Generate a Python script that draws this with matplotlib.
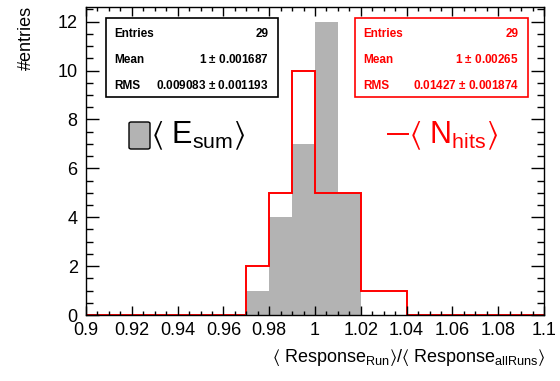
import matplotlib
matplotlib.use("Agg")
import matplotlib.pyplot as plt
import matplotlib.patches as patches
import numpy as np

plt.rcParams['font.family'] = ['Liberation Sans', 'DejaVu Sans']
plt.rcParams['mathtext.fontset'] = 'custom'
plt.rcParams['mathtext.rm'] = 'Liberation Sans'
plt.rcParams['mathtext.it'] = 'Liberation Sans'
plt.rcParams['mathtext.bf'] = 'Liberation Sans:bold'
plt.rcParams['mathtext.default'] = 'regular'

# histogram contents, 20 bins from 0.9 to 1.1
x_lo, x_hi, n_bins = 0.9, 1.1, 20
esum_counts = [0, 0, 0, 0, 0, 0, 0, 1, 4, 7, 12, 5, 0, 0, 0, 0, 0, 0, 0, 0]
nhits_counts = [0, 0, 0, 0, 0, 0, 0, 2, 5, 10, 5, 5, 1, 1, 0, 0, 0, 0, 0, 0]

esum_stats = [("Entries", "29"), ("Mean", "1 $\\pm$ 0.001687"),
              ("RMS", "0.009083 $\\pm$ 0.001193")]
nhits_stats = [("Entries", "29"), ("Mean", "1 $\\pm$ 0.00265"),
               ("RMS", "0.01427 $\\pm$ 0.001874")]

W, H = 560, 381
fig = plt.figure(figsize=(W / 100, H / 100), dpi=100)

def fx(px):
    return px / W

def fy(py):
    return 1 - py / H

ax = fig.add_axes([fx(86), fy(315), fx(544) - fx(86), fy(7) - fy(315)])

edges = np.linspace(x_lo, x_hi, n_bins + 1)
ax.stairs(esum_counts, edges, fill=True, color='#b3b3b3', linewidth=0)
ax.stairs(nhits_counts, edges, baseline=0, color='red', linewidth=1.4)

ax.set_xlim(x_lo, x_hi)
ax.set_ylim(0, 12.6)
ax.set_xticks(np.arange(0.9, 1.1001, 0.02))
ax.set_xticklabels(['0.9', '0.92', '0.94', '0.96', '0.98', '1', '1.02',
                    '1.04', '1.06', '1.08', '1.1'])
ax.set_xticks(np.arange(0.9, 1.1001, 0.005), minor=True)
ax.set_yticks(np.arange(0, 13, 2))
ax.set_yticks(np.arange(0, 12.6, 0.5), minor=True)
ax.tick_params(which='both', direction='in', top=True, right=True,
               labelsize=13, width=1)
ax.tick_params(axis='x', which='major', length=6.5, pad=5)
ax.tick_params(axis='x', which='minor', length=3.2)
ax.tick_params(axis='y', which='major', length=9.4, pad=6)
ax.tick_params(axis='y', which='minor', length=4.7)
for s in ax.spines.values():
    s.set_linewidth(1)

fig.text(fx(26), fy(6), '#entries', rotation=90, ha='center', va='top',
         fontsize=13)
fig.text(fx(545), fy(362),
         r'$\langle$ Response$_{Run}$$\rangle$/$\langle$ Response$_{allRuns}$$\rangle$',
         ha='right', va='baseline', fontsize=13)

# stat boxes
def stat_box(x0, x1, y0, y1, rows, color):
    fig.add_artist(patches.Rectangle((fx(x0), fy(y1)), fx(x1) - fx(x0),
                                     fy(y0) - fy(y1), transform=fig.transFigure,
                                     fill=True, facecolor='white',
                                     edgecolor=color, linewidth=1.2))
    for i, (lab, val) in enumerate(rows):
        yb = fy(37 + i * 26)
        fig.text(fx(x0 + 8), yb, lab, ha='left', va='baseline', fontsize=8.5,
                 fontweight='bold', color=color)
        fig.text(fx(x1 - 9), yb, val, ha='right', va='baseline', fontsize=8.5,
                 fontweight='bold', color=color)

stat_box(106, 278, 18, 97, esum_stats, 'black')
stat_box(355, 528, 18, 97, nhits_stats, 'red')

# labels
fig.add_artist(patches.FancyBboxPatch((fx(129), fy(149)), fx(150) - fx(129),
                                      fy(122) - fy(149),
                                      boxstyle='round,pad=0,rounding_size=0.004',
                                      transform=fig.transFigure,
                                      facecolor='#b3b3b3', edgecolor='black',
                                      linewidth=1))
fig.text(fx(151), fy(143), r'$\langle$ E$_{sum}$$\rangle$', ha='left',
         va='baseline', fontsize=22)
fig.add_artist(plt.Line2D([fx(388), fx(408)], [fy(134), fy(134)],
                          transform=fig.transFigure, color='red', linewidth=1.4))
fig.text(fx(409), fy(143), r'$\langle$ N$_{hits}$$\rangle$', ha='left',
         va='baseline', fontsize=22, color='red')

fig.savefig('out.png', dpi=100)
